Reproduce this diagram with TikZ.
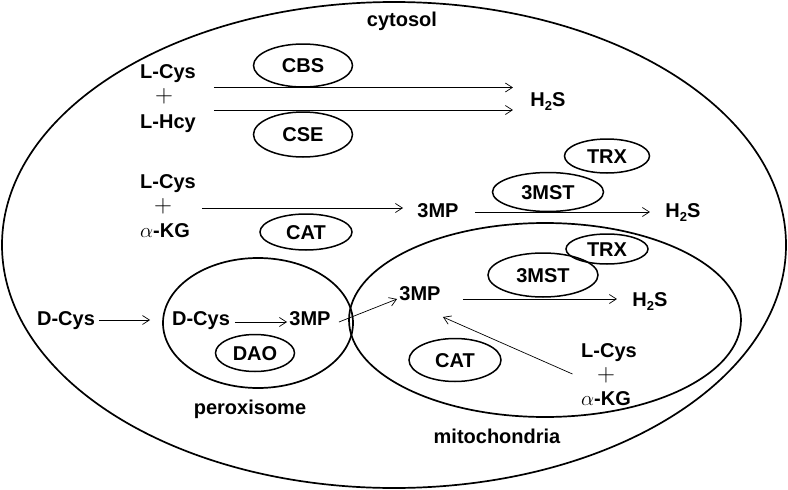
\documentclass[tikz,border=0pt]{standalone}
\usepackage{fontspec}
\setmainfont{Liberation Sans}
\usetikzlibrary{arrows.meta,shapes.geometric}
\newcommand\htwos{H\raisebox{-4.5pt}{\fontsize{13}{13}\selectfont 2}S}
\begin{document}
\begin{tikzpicture}[x=1pt,y=-1pt,
  lbl/.style={font=\fontsize{20}{24}\selectfont\bfseries, inner sep=0pt, outer sep=0pt, text height=14.3pt, text depth=0pt},
  plussign/.style={font=\fontsize{24}{28}\selectfont, inner sep=0pt, outer sep=0pt},
  enz/.style={lbl, draw, ellipse, line width=1.5pt},
  organelle/.style={draw, ellipse, line width=1.7pt, inner sep=0pt, outer sep=0pt},
  arr/.style={line width=0.7pt, -{Straight Barb[length=7pt,width=9pt]}}]
\fill[white] (0,0) rectangle (788,490);
\useasboundingbox (0,0) rectangle (788,490);
% compartments
\node[organelle, minimum width=784pt, minimum height=486pt] (cell) at (394,245) {};
\node[organelle, minimum width=392pt, minimum height=194pt] (mitoc) at (545,320) {};
\node[organelle, minimum width=190pt, minimum height=130pt] (peroxc) at (258,323) {};
% labels
\node[lbl] (cyt) at (402,19) {cytosol};
\node[lbl] (lcys1) at (168,71.5) {L-Cys};
\node[plussign] (plus1) at (164,96.5) {$+$};
\node[lbl] (lhcy1) at (168,121) {L-Hcy};
\node[lbl] (h2s1) at (548,99) {\htwos};
\node[lbl] (lcys2) at (168,181) {L-Cys};
\node[plussign] (plus2) at (163,206) {$+$};
\node[lbl] (akg2) at (165,230) {$\alpha$-KG};
\node[lbl] (mp1) at (438,210) {3MP};
\node[lbl] (h2s2) at (683,210) {\htwos};
\node[lbl] (dcys1) at (66,318) {D-Cys};
\node[lbl] (dcys2) at (201,318) {D-Cys};
\node[lbl] (mp2) at (310,318) {3MP};
\node[lbl] (mp3) at (420,293) {3MP};
\node[lbl] (h2s3) at (650,299) {\htwos};
\node[lbl] (lcys3) at (609,350) {L-Cys};
\node[plussign] (plus3) at (606,375) {$+$};
\node[lbl] (akg3) at (606,398) {$\alpha$-KG};
\node[lbl] (perox) at (250,407) {peroxisome};
\node[lbl] (mito) at (497,436) {mitochondria};
% enzymes
\node[enz, minimum width=99pt, minimum height=43pt] (cbs) at (303,65.5) {CBS};
\node[enz, minimum width=99pt, minimum height=45pt] (cse) at (303,134.5) {CSE};
\node[enz, minimum width=92pt, minimum height=36pt] (cat1) at (306,232) {CAT};
\node[enz, minimum width=111pt, minimum height=39pt] (mst1) at (548,192) {3MST};
\node[enz, minimum width=85pt, minimum height=34pt] (trx1) at (607,156) {TRX};
\node[enz, minimum width=82pt, minimum height=30pt] (trx2) at (607,249) {TRX};
\node[enz, minimum width=110pt, minimum height=44pt] (mst2) at (543,275) {3MST};
\node[enz, minimum width=92pt, minimum height=43pt] (cat2) at (455,360) {CAT};
\node[enz, minimum width=79pt, minimum height=37pt] (dao) at (255,353) {DAO};
% reactions
\draw[arr] ([shift={(41,-9)}]plus1.east) -- ([shift={(-17.5,-11.5)}]h2s1.west);
\draw[arr] ([shift={(41,13.5)}]plus1.east) -- ([shift={(-17.5,11)}]h2s1.west);
\draw[arr] ([shift={(30,2)}]plus2.east) -- ([shift={(-14.4,-2)}]mp1.west);
\draw[arr] ([shift={(16.4,2)}]mp1.east) -- ([shift={(-15.5,2)}]h2s2.west);
\draw[arr] ([shift={(4,2)}]dcys1.east) -- ([shift={(-22,2)}]dcys2.west);
\draw[arr] ([shift={(5,4)}]dcys2.east) -- ([shift={(-2.4,4)}]mp2.west);
\draw[arr] ([shift={(8.4,4)}]mp2.east) -- ([shift={(-2.4,6)}]mp3.west);
\draw[arr] ([shift={(22.4,6)}]mp3.east) -- ([shift={(-15.5,0)}]h2s3.west);
\draw[arr] ([shift={(-24.6,-1)}]plus3.west) -- ([shift={(2.4,16.85)}]mp3.south east);
\end{tikzpicture}
\end{document}
